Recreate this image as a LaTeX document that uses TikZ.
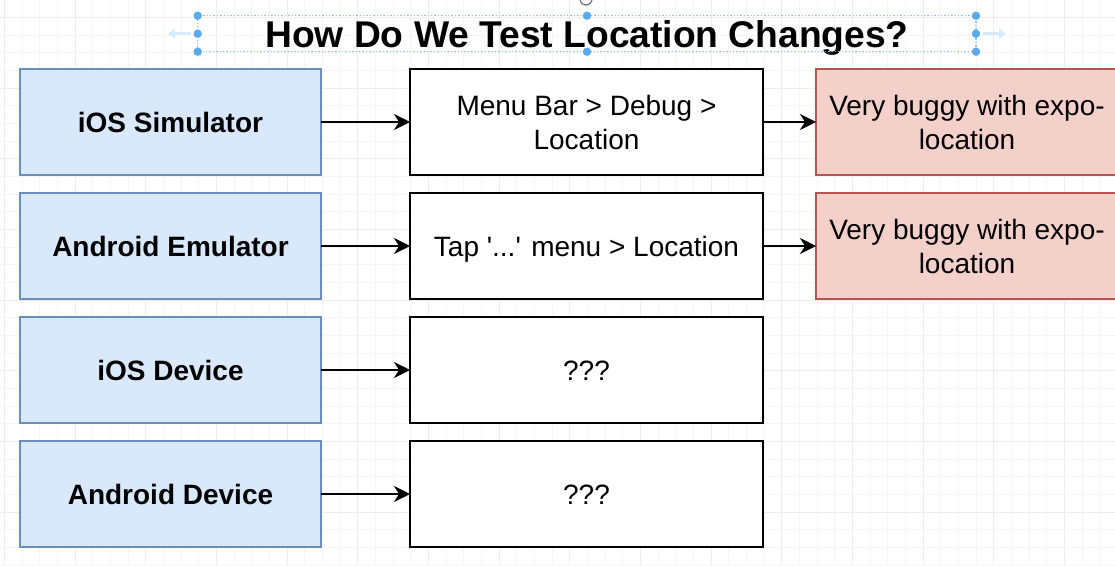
\documentclass[tikz,border=0pt]{standalone}
\usepackage{fontspec}
\setmainfont{Liberation Sans}
\usetikzlibrary{positioning,arrows.meta}
\definecolor{devfill}{HTML}{DAE8FC}
\definecolor{devline}{HTML}{6C8EBF}
\definecolor{notefill}{HTML}{F4D0CA}
\definecolor{noteline}{HTML}{B85450}
\definecolor{selblue}{HTML}{3D9BE9}
\newcommand{\rowstrut}{\rule[-7pt]{0pt}{34pt}}

\begin{document}
\begin{tikzpicture}[x=1pt, y=-1pt, node distance={18pt and 89pt}, thick,
  box/.style = {draw, inner sep=0pt, outer sep=0pt, align=center, minimum height=106pt, font=\fontsize{28}{34}\selectfont},
  device/.style = {box, fill=devfill, draw=devline, line width=1.2pt, minimum width=301pt, font=\fontsize{28}{34}\selectfont\bfseries},
  howto/.style = {box, fill=white, line width=1.6pt, minimum width=353pt},
  note/.style = {box, fill=notefill, draw=noteline, line width=1.2pt, minimum width=302pt},
  link/.style = {-{Stealth[length=16pt, width=16pt, inset=5pt]}, line width=1.8pt},
  gridminor/.style = {draw=black!4, line width=0.6pt},
  gridmajor/.style = {draw=black!7, line width=0.8pt},
  handle/.style = {fill=selblue!85, draw=none}]
\useasboundingbox (0,0) rectangle (1115,565);
\clip (0,0) rectangle (1115,565);
\fill[white] (0,0) rectangle (1115,565);
% grid
\foreach \i in {0,...,63} \draw[gridminor] ({4.3+17.667*\i},0) -- ({4.3+17.667*\i},565);
\foreach \j in {-1,...,31} \draw[gridminor] (0,{17.3+17.667*\j}) -- (1115,{17.3+17.667*\j});
\foreach \i in {0,...,15} \draw[gridmajor] ({4.3+70.667*\i},0) -- ({4.3+70.667*\i},565);
\foreach \j in {0,...,7} \draw[gridmajor] (0,{17.3+70.667*\j}) -- (1115,{17.3+70.667*\j});
% title with its selection handles
\node[font=\fontsize{37.2}{44}\selectfont\bfseries, anchor=base, inner sep=0pt] (title) at (587,47) {How Do We Test Location Changes?};
\draw[selblue!60, dotted, line width=1.4pt] (197.7,15.7) rectangle (976,51.7);
\foreach \hx/\hy in {197.7/15.7, 587/15.7, 976/15.7, 197.7/33.7, 976/33.7, 197.7/51.7, 587/51.7, 976/51.7}
  \fill[handle] (\hx,\hy) circle (4.2pt);
\draw[selblue!20, line width=3pt, -{Triangle[length=7pt, width=10pt]}] (191,33.7) -- (168,33.7);
\draw[selblue!20, line width=3pt, -{Triangle[length=7pt, width=10pt]}] (983,33.7) -- (1006,33.7);
\draw[black!55, line width=1.2pt] (586,-1) circle (6pt);
% boxes
\node[device] (sim) at (170.5,122) {\rowstrut iOS Simulator};
\node[howto, right=of sim] (simhow) {\rowstrut Menu Bar > Debug >\\\rowstrut Location};
\node[note, right=53pt of simhow] (simnote) {\rowstrut Very buggy with expo-\\\rowstrut location};
\node[device, below=of sim] (emu) {\rowstrut Android Emulator};
\node[howto, right=of emu] (emuhow) {\rowstrut Tap \textquotesingle...\textquotesingle{} menu > Location};
\node[note, right=53pt of emuhow] (emunote) {\rowstrut Very buggy with expo-\\\rowstrut location};
\node[device, below=of emu] (iphone) {\rowstrut iOS Device};
\node[howto, right=of iphone] (iphonehow) {\rowstrut ???};
\node[device, below=of iphone] (droid) {\rowstrut Android Device};
\node[howto, right=of droid] (droidhow) {\rowstrut ???};
% arrows
\draw[link] (sim) -- (simhow);
\draw[link] (simhow) -- (simnote);
\draw[link] (emu) -- (emuhow);
\draw[link] (emuhow) -- (emunote);
\draw[link] (iphone) -- (iphonehow);
\draw[link] (droid) -- (droidhow);
\end{tikzpicture}
\end{document}
